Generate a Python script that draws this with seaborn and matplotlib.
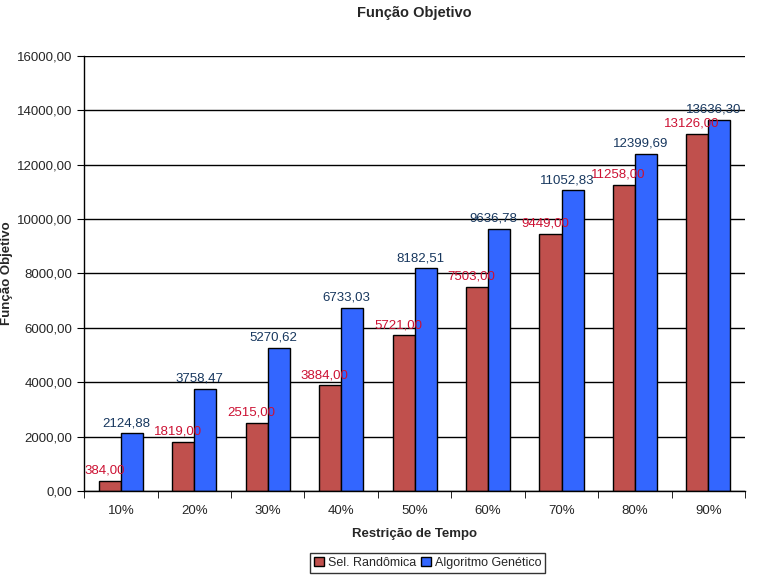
import pandas as pd
import numpy as np
import matplotlib
matplotlib.use('Agg')
import matplotlib.pyplot as plt
import seaborn as sb
from matplotlib.ticker import FuncFormatter, FixedLocator

categorias = ['10%', '20%', '30%', '40%', '50%', '60%', '70%', '80%', '90%']
sel_randomica = [384.00, 1819.00, 2515.00, 3884.00, 5721.00, 7503.00, 9449.00, 11258.00, 13126.00]
alg_genetico = [2124.88, 3758.47, 5270.62, 6733.03, 8182.51, 9636.78, 11052.83, 12399.69, 13636.30]
series = ['Sel. Randômica', 'Algoritmo Genético']
cores = ['#C0504D', '#3366FF']
cores_rotulo = ['#CC1133', '#17375E']

data = pd.DataFrame({
    'Restrição de Tempo': categorias * 2,
    'valor': sel_randomica + alg_genetico,
    'serie': [series[0]] * len(categorias) + [series[1]] * len(categorias),
})

sb.set_style('white')
plt.rcParams['font.family'] = ['Liberation Sans', 'DejaVu Sans']

fig = plt.figure(figsize=(7.65, 5.75), dpi=100)
ax = fig.add_axes([0.110, 0.146, 0.864, 0.757])

sb.barplot(data=data, x='Restrição de Tempo', y='valor', hue='serie',
           palette=cores, width=0.6, edgecolor='black', linewidth=1,
           saturation=1, ax=ax)

# rotulos dos valores (um pouco deslocados p/ esquerda como no excel)
for cont, cor in zip(ax.containers, cores_rotulo):
    for barra, v in zip(cont, cont.datavalues):
        ax.annotate(f'{v:.2f}'.replace('.', ','),
                    (barra.get_x() + barra.get_width() / 2, barra.get_height()),
                    xytext=(-4, 3), textcoords='offset points',
                    ha='center', va='bottom', color=cor, fontsize=9.5)

ax.set_ylim(0, 16000)
ax.set_xlim(-0.5, 8.5)
ax.yaxis.set_major_locator(FixedLocator(np.arange(0, 16001, 2000)))
ax.yaxis.set_major_formatter(FuncFormatter(lambda v, p: f'{v:.2f}'.replace('.', ',')))
ax.grid(axis='y', color='black', linewidth=1)
ax.set_axisbelow(True)

# ticks entre as categorias
ax.tick_params(axis='x', which='major', length=0, pad=10, labelsize=9.5)
ax.xaxis.set_minor_locator(FixedLocator(np.arange(-0.5, 9, 1)))
ax.tick_params(axis='x', which='minor', length=5, direction='out', bottom=True, color='black')
ax.tick_params(axis='y', length=5, direction='out', left=True, color='black', labelsize=9.5)

for s in ['top', 'right']:
    ax.spines[s].set_visible(False)
for s in ['left', 'bottom']:
    ax.spines[s].set_color('black')
    ax.spines[s].set_linewidth(1)

ax.set_title('Função Objetivo', fontsize=10.5, fontweight='bold', pad=28)
ax.set_xlabel('Restrição de Tempo', fontsize=9.5, fontweight='bold', labelpad=8)
ax.set_ylabel('Função Objetivo', fontsize=9.5, fontweight='bold', labelpad=3)

ax.legend(loc='upper center', bbox_to_anchor=(0.52, -0.128), ncol=2, frameon=True,
          fancybox=False, edgecolor='black', fontsize=9, handlelength=0.8,
          handleheight=0.8, handletextpad=0.3, columnspacing=0.4, borderpad=0.3)
leg = ax.get_legend()
leg.get_frame().set_linewidth(1)

plt.savefig('out.png', dpi=100)
